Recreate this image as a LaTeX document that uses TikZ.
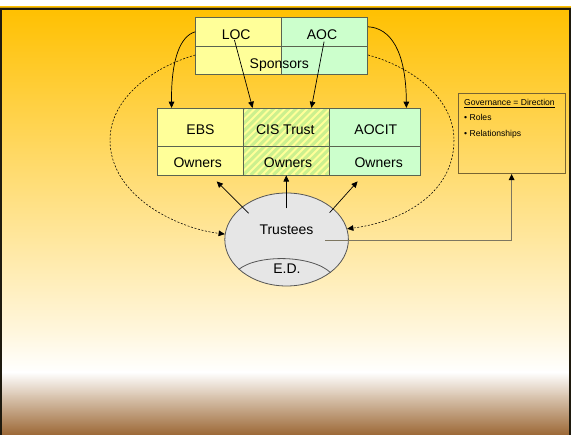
\documentclass[tikz,border=0pt]{standalone}
\usepackage{fontspec}
\setmainfont{Liberation Sans}
\usetikzlibrary{arrows.meta,shapes.geometric,calc}

\definecolor{cellyellow}{HTML}{FFFF99}
\definecolor{cellgreen}{HTML}{CCFFCC}
\definecolor{stripegreen}{HTML}{CCF08E}
\definecolor{cellline}{RGB}{90,100,80}
\definecolor{bgtop}{HTML}{FFC000}
\definecolor{bgpale}{HTML}{FFF6DC}
\definecolor{bgtan}{HTML}{D9C5B0}
\definecolor{bgbrown}{HTML}{9C6836}
\definecolor{framedark}{HTML}{1F1A0E}
\definecolor{goldline}{HTML}{C8980A}
\definecolor{ellfill}{HTML}{E6E6E6}
\definecolor{ellline}{HTML}{555555}
\definecolor{govgray}{RGB}{125,118,96}
\definecolor{govborder}{RGB}{120,100,50}

\tikzset{
  cell/.style={rectangle, draw=cellline, line width=0.8pt, inner sep=0pt},
  ylw/.style={cell, fill=cellyellow},
  grn/.style={cell, fill=cellgreen},
  striped/.style={cell, fill=cellyellow,
    path picture={
      \foreach \k in {-9,...,14}
        \draw[stripegreen, line width=2.9pt]
          ([xshift=\k*7.5pt]path picture bounding box.south west) -- ++(60pt,60pt);
    }},
  lbl/.style={anchor=base, inner sep=0pt, font=\fontsize{14}{16}\selectfont},
  small/.style={anchor=base west, inner sep=0pt, font=\fontsize{8.6}{10}\selectfont},
  arr/.style={-{Triangle[length=6.2pt,width=5.6pt]}, line width=0.7pt, black},
  dashconn/.style={-{Triangle[length=6.2pt,width=5.6pt]}, line width=0.55pt, black,
    dash pattern=on 2pt off 1.6pt},
  govconn/.style={-{Triangle[length=6.2pt,width=5.6pt,color=black]}, line width=1.2pt, govgray},
}

\begin{document}
\begin{tikzpicture}[x=1pt,y=-1pt]
\useasboundingbox (0,0) rectangle (571,435);

% slide background
\fill[white] (0,0) rectangle (571,435);
\shade[top color=bgtop, bottom color=bgpale] (0,7) rectangle (571,330.5);
\shade[top color=bgpale, bottom color=white] (0,330) rectangle (571,372.5);
\shade[top color=white, bottom color=bgtan] (0,372) rectangle (571,396.5);
\shade[top color=bgtan, bottom color=bgbrown] (0,396) rectangle (571,435);

% slide frame
\draw[goldline, line width=1pt] (0,7.2) -- (571,7.2);
\draw[framedark, line width=2.2pt] (1.3,436) -- (1.3,9) -- (570,9) -- (570,436);

% sponsors block
\node[ylw, minimum width=85.9pt, minimum height=29pt] (loc) at (238.65,31.8) {};
\node[grn, minimum width=86.1pt, minimum height=29pt] (aoc) at (324.65,31.8) {};
\node[ylw, minimum width=85.9pt, minimum height=28.4pt] (spL) at (238.65,60.5) {};
\node[grn, minimum width=86.1pt, minimum height=28.4pt] (spR) at (324.65,60.5) {};

% owners block
\node[ylw, minimum width=86pt, minimum height=38.2pt] (ebs) at (200.3,127.4) {};
\node[striped, minimum width=85.9pt, minimum height=38.2pt] (cis) at (286.25,127.4) {};
\node[grn, minimum width=91pt, minimum height=38.2pt] (aocit) at (374.7,127.4) {};
\node[ylw, minimum width=86pt, minimum height=28.5pt] (ebsO) at (200.3,160.75) {};
\node[striped, minimum width=85.9pt, minimum height=28.5pt] (cisO) at (286.25,160.75) {};
\node[grn, minimum width=91pt, minimum height=28.5pt] (aocO) at (374.7,160.75) {};

% trustees
\node[ellipse, draw=ellline, fill=ellfill, line width=0.8pt, inner sep=0pt,
      minimum width=123.6pt, minimum height=93pt] (trustees) at (286.6,239.5) {};
\draw[ellline, line width=0.8pt] (trustees.212) .. controls (258,254) and (312,255) .. (trustees.323);

% governance note
\node[draw=govborder, line width=0.9pt, inner sep=0pt,
      minimum width=106.7pt, minimum height=80pt] (gov) at (511.65,133.5) {};

% labels
\node[lbl] (locT) at (236.2,39.3) {LOC};
\node[lbl] (aocT) at (322,39.3) {AOC};
\node[lbl] (spT) at (279.3,68.3) {Sponsors};
\node[lbl] (ebsT) at (200.5,135) {EBS};
\node[lbl] (cisT) at (285.3,135) {CIS Trust};
\node[lbl] (aocitT) at (375.8,135) {AOCIT};
\node[lbl] (own1) at (197.7,168) {Owners};
\node[lbl] (own2) at (288,168) {Owners};
\node[lbl] (own3) at (378.7,168) {Owners};
\node[lbl] (trT) at (286.5,235) {Trustees};
\node[lbl] (edT) at (287,274) {E.D.};
\node[small] (govT) at (464,105.3) {\underline{Governance = Direction}};
\node[small] (roles) at (464,120.7) {• Roles};
\node[small] (rels) at (464,136.7) {• Relationships};

% sponsor links
\draw[arr] (loc.west) .. controls (180,36) and (171,60) .. ([xshift=14.7pt]ebs.north west);
\draw[arr] ([shift={(-4.2,8.2)}]loc.center) -- ([xshift=9.7pt]cis.north west);
\draw[arr] ([shift={(-0.6,9.9)}]aoc.center) -- ([xshift=-18.2pt]cis.north east);
\draw[arr] ([yshift=5pt]aoc.east) .. controls (390,28) and (406,50) .. ([xshift=-14.2pt]aocit.north east);

% sponsors to trustees (dashed)
\draw[dashconn] ([yshift=5.5pt]spL.west) .. controls (150,68) and (110,100) .. (110,140)
  .. controls (110,195) and (175,228) .. (trustees.175);
\draw[dashconn] ([yshift=5.5pt]spR.east) .. controls (415,68) and (454,100) .. (454,140)
  .. controls (454,195) and (400,222) .. (trustees.10);

% trustees to owners
\draw[arr] ([shift={(-37.9,-26.2)}]trustees.center) -- ([shift={(16.4,6)}]ebsO.south);
\draw[arr] ([shift={(-0.35,-31.2)}]trustees.center) -- (cisO.south);
\draw[arr] ([shift={(43,-26.8)}]trustees.center) -- ([shift={(-17.1,6)}]aocO.south);

% trustees to governance
\draw[govconn] ([shift={(38.4,1.2)}]trustees.center) -| (gov.south);
\end{tikzpicture}
\end{document}
